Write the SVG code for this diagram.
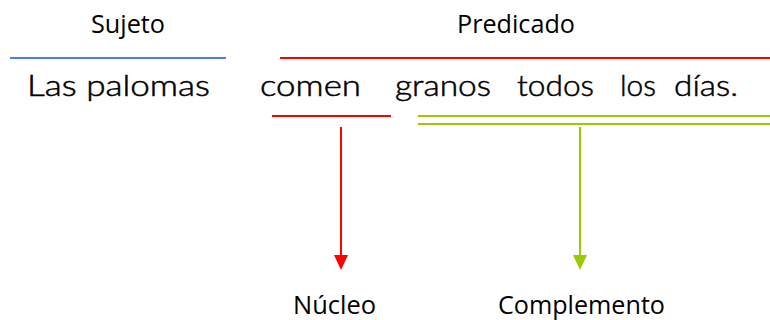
<svg xmlns="http://www.w3.org/2000/svg" width="770" height="320" viewBox="0 0 770 320">
<style>
.lbl{font-family:"Open Sans","Liberation Sans",sans-serif;font-size:25px;fill:#000;text-anchor:middle}
.w{font-family:"Lato","Liberation Sans",sans-serif;font-size:29px;font-weight:300;fill:#000;stroke:#000;stroke-width:0.5}
.red{stroke:#ff0000;stroke-width:2;fill:none}
.grn{stroke:#99cc00;stroke-width:2;fill:none}
.blu{stroke:#4a7ef0;stroke-width:2;fill:none}
</style>
<rect width="770" height="320" fill="#fff"/>
<g id="sujeto">
<text class="lbl" x="128" y="33" textLength="74" lengthAdjust="spacingAndGlyphs">Sujeto</text>
<line class="blu" x1="10" y1="58" x2="226" y2="58"/>
<text class="w" x="27" y="96" textLength="183" lengthAdjust="spacingAndGlyphs">Las  palomas</text>
</g>
<g id="predicado">
<text class="lbl" x="516" y="33" textLength="118" lengthAdjust="spacingAndGlyphs">Predicado</text>
<line class="red" x1="280" y1="58" x2="770" y2="58"/>
<text class="w" x="260" y="96" textLength="101" lengthAdjust="spacingAndGlyphs">comen</text>
<text class="w" x="395" y="96" textLength="96" lengthAdjust="spacingAndGlyphs">granos</text>
<text class="w" x="517" y="96" textLength="77" lengthAdjust="spacingAndGlyphs">todos</text>
<text class="w" x="620" y="96" textLength="36" lengthAdjust="spacingAndGlyphs">los</text>
<text class="w" x="674" y="96" textLength="64" lengthAdjust="spacingAndGlyphs">días.</text>
</g>
<g id="nucleo">
<line class="red" x1="272" y1="116" x2="391" y2="116"/>
<text class="lbl" x="334.5" y="314" textLength="83" lengthAdjust="spacingAndGlyphs">Núcleo</text>
</g>
<g id="complemento">
<line class="grn" x1="418" y1="116" x2="770" y2="116"/>
<line class="grn" x1="418" y1="124" x2="770" y2="124"/>
<text class="lbl" x="581.5" y="314" textLength="167" lengthAdjust="spacingAndGlyphs">Complemento</text>
</g>
<g id="connectors">
<line class="red" x1="341" y1="127" x2="341" y2="258"/>
<path d="M334,255 L348,255 L341,270 z" fill="#ff0000"/>
<line class="grn" x1="580" y1="127" x2="580" y2="258"/>
<path d="M573,255 L587,255 L580,270 z" fill="#99cc00"/>
</g>
</svg>
